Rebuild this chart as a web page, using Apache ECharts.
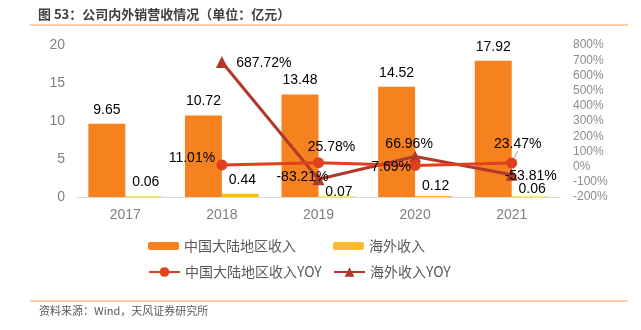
<!DOCTYPE html>
<html>
<head>
<meta charset="utf-8">
<script src="https://cdn.jsdelivr.net/npm/echarts@6/dist/echarts.min.js"></script>
<style>
html,body{margin:0;padding:0;background:#fff;}
#c{width:641px;height:330px;}
</style>
</head>
<body>
<div id="c"></div>
<script>
// ---- data ----
const years = ['2017', '2018', '2019', '2020', '2021'];
const domesticRev = [9.65, 10.72, 13.48, 14.52, 17.92];
const overseasRev = [0.06, 0.44, 0.07, 0.12, 0.06];
const domesticYoy = [null, 11.01, 25.78, 7.69, 23.47];
const overseasYoy = [null, 687.72, -83.21, 66.96, -53.81];
const leftTicks = [0, 5, 10, 15, 20];
const rightTicks = [-200, -100, 0, 100, 200, 300, 400, 500, 600, 700, 800];

// ---- label styling (offsets only) ----
const overseasBarLabelDy = [0, 0, 10, 4, 7];
const domesticYoyLabelOffset = [[0,0], [-30,-7], [13,-16], [-24,2], [6,-19]];
const overseasYoyLabelOffset = [[0,0], [42,1], [-16,-2], [-6,-12], [19,1]];

const numFont = 'Liberation Sans, Arial, Helvetica, sans-serif';
const cjkFont = '"Noto Sans CJK SC", "Noto Sans", sans-serif';

const chart = echarts.init(document.getElementById('c'));

const legendBase = {
  orient: 'horizontal', itemGap: 5, padding: 0,
  textStyle: { fontFamily: cjkFont, fontSize: 14, color: '#595959', padding: [0,0,0,0] }
};

function layoutFrom(offsets) {
  return function (p) {
    const o = offsets[p.dataIndex] || [0, 0];
    return { dx: o[0], dy: o[1] };
  };
}

chart.setOption({
  backgroundColor: '#fff',
  animation: false,
  textStyle: { fontFamily: numFont },
  grid: { left: 77, right: 81, top: 45, bottom: 133, containLabel: false },
  graphic: [
    { type: 'text', left: 38, top: 8, style: { text: '图 53：公司内外销营收情况（单位：亿元）', font: 'bold 13px ' + cjkFont, fill: '#404040' } },
    { type: 'line', shape: { x1: 30, y1: 25, x2: 628, y2: 25 }, style: { stroke: '#F8BF8C', lineWidth: 1.5 } },
    { type: 'line', shape: { x1: 30, y1: 301, x2: 628, y2: 301 }, style: { stroke: '#F8BF8C', lineWidth: 1.5 } },
    { type: 'text', left: 39, top: 305, style: { text: '资料来源：Wind，天风证券研究所', font: '11px ' + cjkFont, fill: '#595959' } }
  ],
  legend: [
    Object.assign({}, legendBase, { left: 148, top: 239, itemWidth: 31, itemHeight: 8, data: ['中国大陆地区收入'] }),
    Object.assign({}, legendBase, { left: 333, top: 239, itemWidth: 31, itemHeight: 8, data: ['海外收入'] }),
    Object.assign({}, legendBase, { left: 148, top: 265, itemWidth: 31, itemHeight: 12, data: ['中国大陆地区收入YOY'] }),
    Object.assign({}, legendBase, { left: 333, top: 265, itemWidth: 31, itemHeight: 12, data: ['海外收入YOY'] })
  ],
  xAxis: {
    type: 'category', data: years,
    axisLine: { lineStyle: { color: '#D9D9D9', width: 1 } },
    axisTick: { show: false },
    axisLabel: { color: '#7F7F7F', fontSize: 14, margin: 11, fontFamily: numFont }
  },
  yAxis: [
    {
      type: 'value', min: leftTicks[0], max: leftTicks[leftTicks.length - 1], interval: 5,
      axisLine: { show: false }, axisTick: { show: false }, splitLine: { show: false },
      axisLabel: { color: '#7F7F7F', fontSize: 14, margin: 12, fontFamily: numFont }
    },
    {
      type: 'value', min: rightTicks[0], max: rightTicks[rightTicks.length - 1], interval: 100,
      axisLine: { show: false }, axisTick: { show: false }, splitLine: { show: false },
      axisLabel: { color: '#8C8C8C', fontSize: 12, margin: 13, formatter: '{value}%', fontFamily: numFont }
    }
  ],
  series: [
    {
      name: '中国大陆地区收入', type: 'bar', barGap: '0%', barCategoryGap: '23.5%',
      itemStyle: { color: '#F5821F' },
      label: { show: true, position: 'top', distance: 7, color: '#000', fontSize: 14, fontFamily: numFont,
        formatter: p => p.value.toFixed(2) },
      data: domesticRev
    },
    {
      name: '海外收入', type: 'bar',
      itemStyle: { color: '#FBBA2A' },
      label: { show: true, position: 'top', distance: 7, color: '#000', fontSize: 14, fontFamily: numFont,
        formatter: p => p.value.toFixed(2) },
      data: overseasRev.map((v, i) => ({ value: v, label: { offset: [2, overseasBarLabelDy[i]] } }))
    },
    {
      name: '中国大陆地区收入YOY', type: 'line', yAxisIndex: 1, z: 5,
      symbol: 'circle', symbolSize: 11,
      itemStyle: { color: '#E0401E' },
      lineStyle: { color: '#E0401E', width: 3 },
      label: { show: true, position: 'inside', color: '#000', fontSize: 14, fontFamily: numFont,
        formatter: p => p.value.toFixed(2) + '%' },
      labelLine: { show: false, lineStyle: { color: '#A6A6A6', width: 1 } },
      labelLayout: layoutFrom(domesticYoyLabelOffset),
      data: domesticYoy.map((v, i) => v === null ? null : ({
        value: v, labelLine: { show: i === 4, lineStyle: { color: '#A6A6A6', width: 1 } }
      }))
    },
    {
      name: '海外收入YOY', type: 'line', yAxisIndex: 1, z: 4,
      symbol: 'triangle', symbolSize: 12,
      itemStyle: { color: '#B0392A' },
      lineStyle: { color: '#B0392A', width: 3 },
      label: { show: true, position: 'inside', color: '#000', fontSize: 14, fontFamily: numFont,
        formatter: p => p.value.toFixed(2) + '%' },
      labelLayout: layoutFrom(overseasYoyLabelOffset),
      data: overseasYoy.map(v => v === null ? null : { value: v })
    }
  ]
});
</script>
</body>
</html>
